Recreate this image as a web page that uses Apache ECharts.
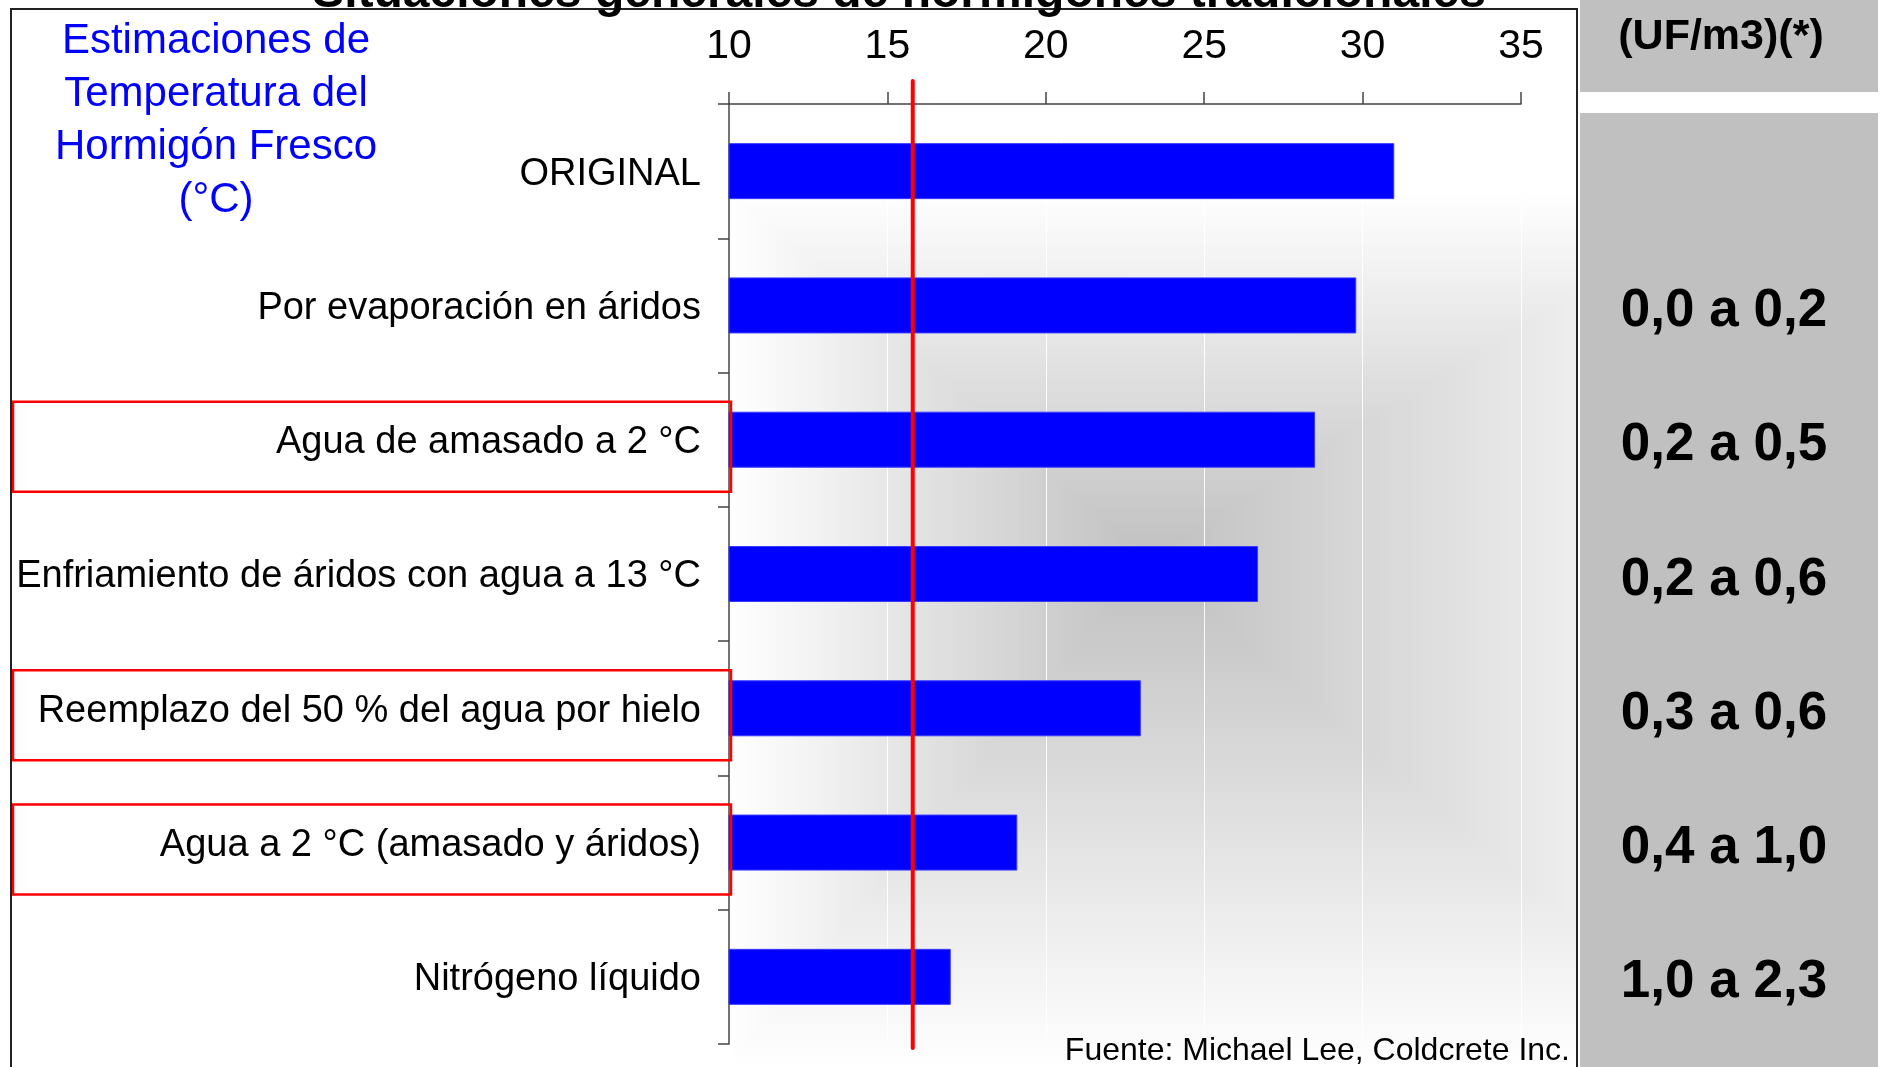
<!DOCTYPE html>
<html>
<head>
<meta charset="utf-8">
<script src="https://cdn.jsdelivr.net/npm/echarts@6/dist/echarts.min.js"></script>
<style>
  html, body { margin: 0; padding: 0; background: #ffffff; }
  #c { width: 1881px; height: 1067px; }
</style>
</head>
<body>
<div id="c"></div>
<script>
// ---------- data ----------
const categories = [
  'ORIGINAL',
  'Por evaporación en áridos',
  'Agua de amasado a 2 °C',
  'Enfriamiento de áridos con agua a 13 °C',
  'Reemplazo del 50 % del agua por hielo',
  'Agua a 2 °C (amasado y áridos)',
  'Nitrógeno líquido'
];
const temperatures = [31.0, 29.8, 28.5, 26.7, 23.0, 19.1, 17.0];
const costRanges = ['', '0,0 a 0,2', '0,2 a 0,5', '0,2 a 0,6', '0,3 a 0,6', '0,4 a 1,0', '1,0 a 2,3'];
const xMin = 10, xMax = 35, xStep = 5;
const targetTemperature = 15.8;
const highlightedCategories = ['Agua de amasado a 2 °C', 'Reemplazo del 50 % del agua por hielo', 'Agua a 2 °C (amasado y áridos)'];
const titleText = 'Situaciones generales de hormigones tradicionales';
const axisTitle = 'Estimaciones de\nTemperatura del\nHormigón Fresco\n(°C)';
const costHeader = '(UF/m3)(*)';
const sourceText = 'Fuente: Michael Lee, Coldcrete Inc.';

// ---------- chart ----------
const SANS = "'Liberation Sans', Arial, sans-serif";
const chart = echarts.init(document.getElementById('c'), null, { renderer: 'canvas' });

const LG = echarts.graphic.LinearGradient;
const option = {
  backgroundColor: '#ffffff',
  animation: false,
  grid: { left: 729, top: 104, width: 792, height: 940, containLabel: false, outerBoundsMode: 'none' },
  xAxis: {
    type: 'value', position: 'top', min: xMin, max: xMax, interval: xStep,
    axisLine: { show: true, lineStyle: { color: '#444', width: 1.5 } },
    axisTick: { show: true, length: 12, lineStyle: { color: '#444', width: 1.5 } },
    axisLabel: { fontFamily: SANS, fontSize: 41, color: '#000', margin: 37 },
    splitLine: { show: true, lineStyle: { color: 'rgba(255,255,255,0.9)', width: 1 } }
  },
  yAxis: [
    {
      type: 'category', inverse: true, data: categories,
      axisLine: { show: true, onZero: false, lineStyle: { color: '#444', width: 1.5 } },
      axisTick: { show: true, length: 11, alignWithLabel: false, lineStyle: { color: '#444', width: 1.5 } },
      axisLabel: {
        margin: 28,
        formatter: function (v) { return '{c|' + v + '}'; },
        rich: { c: { fontFamily: SANS, fontSize: 38, color: '#000', padding: [6, 0, 0, 0] } }
      }
    },
    {
      type: 'category', inverse: true, position: 'right', data: costRanges,
      axisLine: { show: false }, axisTick: { show: false }, splitLine: { show: false },
      axisLabel: {
        margin: 203, align: 'center',
        formatter: function (v) { return v ? '{v|' + v + '}' : ''; },
        rich: { v: { fontFamily: SANS, fontWeight: 'bold', fontSize: 53, color: '#000', align: 'center', padding: [12, 0, 0, 0] } }
      }
    }
  ],
  series: [
    {
      type: 'bar', data: temperatures, barWidth: 56, yAxisIndex: 0,
      itemStyle: { color: '#0000ff', borderColor: '#3a3aff', borderWidth: 1 },
      z: 3
    },
    {
      type: 'custom', yAxisIndex: 0, clip: false, z: 10,
      data: [[targetTemperature, 0]],
      encode: { x: 0, y: 1 },
      renderItem: function (params, api) {
        const x = api.coord([api.value(0), 0])[0];
        const cs = params.coordSys;
        return {
          type: 'line',
          shape: { x1: x, y1: cs.y - 23, x2: x, y2: cs.y + cs.height + 4 },
          style: { stroke: '#ff0000', lineWidth: 4, lineCap: 'round' }
        };
      }
    }
  ],
  graphic: [
    // rectangular "from centre" shading: horizontal ramp, then vertical ramp blended with 'lighten'
    { type: 'rect', z: -10, silent: true,
      shape: { x: 729, y: 104, width: 847, height: 963 },
      style: { fill: new LG(729, 0, 1576, 0, [
        { offset: 0, color: '#ffffff' }, { offset: 0.497, color: '#c0c0c0' }, { offset: 1, color: '#eeeeee' }], true) } },
    { type: 'rect', z: -9, silent: true,
      shape: { x: 729, y: 104, width: 847, height: 963 },
      style: { blend: 'lighten', fill: new LG(0, 104, 0, 1067, [
        { offset: 0, color: '#ffffff' }, { offset: 0.09, color: '#ffffff' }, { offset: 0.474, color: '#c0c0c0' }, { offset: 1, color: '#ffffff' }], true) } },
    { type: 'rect', z: 50, silent: true,
      shape: { x: 11, y: 9, width: 1566, height: 1080 },
      style: { fill: 'none', stroke: '#222', lineWidth: 2 } },
    { type: 'rect', z: -5, silent: true,
      shape: { x: 1580, y: 0, width: 298, height: 92 }, style: { fill: '#c0c0c0' } },
    { type: 'rect', z: -5, silent: true,
      shape: { x: 1580, y: 113, width: 298, height: 960 }, style: { fill: '#c0c0c0' } },
    { type: 'text', z: 60, silent: true, x: 899, y: -6,
      style: { text: titleText, font: "bold 48px 'Liberation Sans', Arial", fill: '#000', align: 'center', verticalAlign: 'middle' } },
    { type: 'text', z: 60, silent: true, x: 216, y: 121,
      style: { text: axisTitle, font: "42px " + SANS, lineHeight: 53, fill: '#0000ff', align: 'center', verticalAlign: 'middle' } },
    { type: 'text', z: 60, silent: true, x: 1721, y: 37,
      style: { text: costHeader, font: "bold 43px 'Liberation Sans', Arial", fill: '#000', align: 'center', verticalAlign: 'middle' } },
    { type: 'text', z: 60, silent: true, x: 1570, y: 1051,
      style: { text: sourceText, font: "32px " + SANS, fill: '#000', align: 'right', verticalAlign: 'middle' } }
  ]
};
chart.setOption(option);

// red highlight boxes around selected category labels, positioned through the category axis
const boxes = highlightedCategories.map(function (name) {
  const yc = chart.convertToPixel({ yAxisIndex: 0 }, name);
  return { type: 'rect', z: 40, silent: true,
    shape: { x: 13, y: yc - 38, width: 718, height: 90 },
    style: { fill: 'none', stroke: '#ff0000', lineWidth: 2.5 } };
});
chart.setOption({ graphic: option.graphic.concat(boxes) });
</script>
</body>
</html>
